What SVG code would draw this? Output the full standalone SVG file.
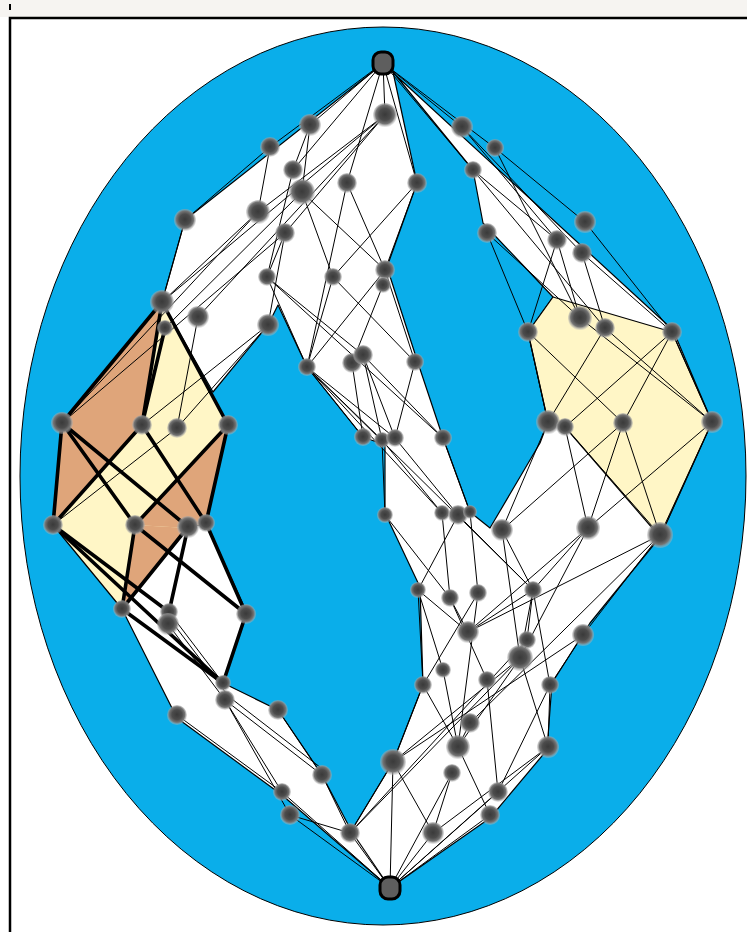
<svg xmlns="http://www.w3.org/2000/svg" width="747" height="932" viewBox="0 0 747 932">
<defs>
<radialGradient id="ng" cx="50%" cy="48%" r="50%">
<stop offset="0" stop-color="#3a3a3a"/>
<stop offset="0.5" stop-color="#4c4c4c"/>
<stop offset="0.78" stop-color="#747474"/>
<stop offset="1" stop-color="#b4b4b4" stop-opacity="0.4"/>
</radialGradient>
<style>
.reg{stroke:#000;stroke-width:1.2;stroke-linejoin:round}
.w{fill:#fff}
.bg{fill:#fff6c6}
.tan{fill:#dfa57a}
.t{stroke:#000;stroke-width:1;fill:none}
.k{stroke:#000;stroke-width:3.6;fill:none;stroke-linecap:round}
.n{fill:url(#ng)}
.end{fill:#5e5e5e;stroke:#000;stroke-width:3}
</style>
</defs>
<rect x="0" y="0" width="747" height="932" fill="#fff"/>
<rect x="0" y="0" width="747" height="17" fill="#f6f4f1"/>
<rect x="9" y="4" width="2" height="6" fill="#000"/>
<path d="M10,932 V18 H747" fill="none" stroke="#000" stroke-width="2.5"/>
<ellipse cx="383" cy="476" rx="363" ry="449" fill="#0aaeea" stroke="#000" stroke-width="1"/>
<g id="regions">
<path class="reg w" fill-rule="evenodd" d="M380,66 L390,70 L673,330 L712,422 L660,537 L590,623 L552,683 L547,750 L490,818 L390,888 L350,833 L393,762 L423,685 L420,587 L385,513 L385,445 L363,437 L307,367 L278,305 L268,325 L213,392 L162,302 L185,220 Z M393,72 L473,170 L483,223 L553,297 L528,332 L548,422 L540,443 L490,528 L470,512 L443,438 L417,360 L387,267 L417,183 Z"/>
<polygon class="reg bg" points="553,297 672,332 712,422 660,537 565,427 548,422 528,332"/>
<polygon class="reg w" points="188,528 206,523 247,613 223,683 278,710 322,775 352,832 390,888 282,795 177,718 122,609"/>
<polygon class="reg bg" points="162,302 228,425 206,523 188,528 122,609 53,525 62,423"/>
<polygon class="tan" points="162,302 62,423 53,525 142,425"/>
<polygon class="tan" points="228,425 206,523 188,528 135,525 170,487"/>
<polygon class="tan" points="135,525 188,528 122,609"/>
</g>
<g id="connectors">
<g class="t">
<line x1="383" y1="63" x2="310" y2="125"/><line x1="383" y1="63" x2="270" y2="147"/><line x1="383" y1="63" x2="385" y2="115"/><line x1="383" y1="63" x2="293" y2="170"/><line x1="383" y1="63" x2="347" y2="183"/><line x1="383" y1="63" x2="417" y2="183"/><line x1="383" y1="63" x2="462" y2="127"/><line x1="383" y1="63" x2="495" y2="148"/><line x1="383" y1="63" x2="473" y2="170"/>
<line x1="310" y1="125" x2="302" y2="192"/><line x1="310" y1="125" x2="293" y2="170"/>
<line x1="270" y1="147" x2="258" y2="212"/><line x1="270" y1="147" x2="185" y2="220"/>
<line x1="385" y1="115" x2="162" y2="302"/><line x1="385" y1="115" x2="198" y2="317"/><line x1="385" y1="115" x2="258" y2="212"/><line x1="385" y1="115" x2="285" y2="233"/>
<line x1="293" y1="170" x2="267" y2="277"/>
<line x1="302" y1="192" x2="333" y2="277"/><line x1="302" y1="192" x2="385" y2="270"/><line x1="302" y1="192" x2="165" y2="328"/>
<line x1="347" y1="183" x2="385" y2="270"/><line x1="347" y1="183" x2="307" y2="367"/>
<line x1="417" y1="183" x2="333" y2="277"/><line x1="417" y1="183" x2="385" y2="270"/>
<line x1="185" y1="220" x2="162" y2="302"/>
<line x1="258" y1="212" x2="162" y2="302"/><line x1="258" y1="212" x2="62" y2="423"/>
<line x1="285" y1="233" x2="268" y2="325"/><line x1="285" y1="233" x2="267" y2="277"/><line x1="285" y1="233" x2="62" y2="423"/>
<line x1="267" y1="277" x2="307" y2="367"/><line x1="267" y1="277" x2="363" y2="355"/><line x1="267" y1="277" x2="443" y2="438"/>
<line x1="333" y1="277" x2="307" y2="367"/><line x1="333" y1="277" x2="415" y2="362"/>
<line x1="385" y1="270" x2="307" y2="367"/><line x1="385" y1="270" x2="415" y2="362"/>
<line x1="383" y1="285" x2="352" y2="363"/>
<line x1="198" y1="317" x2="177" y2="428"/>
<line x1="268" y1="325" x2="142" y2="425"/><line x1="268" y1="325" x2="177" y2="428"/>
<line x1="177" y1="428" x2="53" y2="525"/>
<line x1="307" y1="367" x2="363" y2="437"/><line x1="307" y1="367" x2="382" y2="440"/><line x1="307" y1="367" x2="395" y2="438"/><line x1="307" y1="367" x2="442" y2="513"/><line x1="307" y1="367" x2="533" y2="590"/>
<line x1="352" y1="363" x2="363" y2="437"/>
<line x1="363" y1="355" x2="382" y2="440"/><line x1="363" y1="355" x2="395" y2="438"/><line x1="363" y1="355" x2="443" y2="438"/>
<line x1="415" y1="362" x2="395" y2="438"/>
<line x1="382" y1="440" x2="385" y2="515"/><line x1="382" y1="440" x2="442" y2="513"/>
<line x1="395" y1="438" x2="458" y2="515"/>
<line x1="443" y1="438" x2="470" y2="512"/>
<line x1="385" y1="515" x2="450" y2="598"/>
<line x1="442" y1="513" x2="450" y2="598"/>
<line x1="458" y1="515" x2="418" y2="590"/><line x1="458" y1="515" x2="533" y2="590"/>
<line x1="470" y1="512" x2="478" y2="593"/>
<line x1="418" y1="590" x2="468" y2="632"/><line x1="418" y1="590" x2="443" y2="670"/><line x1="418" y1="590" x2="423" y2="685"/>
<line x1="450" y1="598" x2="487" y2="680"/><line x1="450" y1="598" x2="468" y2="632"/>
<line x1="478" y1="593" x2="423" y2="685"/><line x1="478" y1="593" x2="458" y2="747"/>
<line x1="533" y1="590" x2="468" y2="632"/><line x1="533" y1="590" x2="527" y2="640"/><line x1="533" y1="590" x2="520" y2="658"/><line x1="533" y1="590" x2="550" y2="685"/>
<line x1="502" y1="530" x2="533" y2="590"/><line x1="502" y1="530" x2="520" y2="658"/><line x1="502" y1="530" x2="548" y2="422"/><line x1="502" y1="530" x2="623" y2="423"/>
<line x1="588" y1="528" x2="533" y2="590"/><line x1="588" y1="528" x2="520" y2="658"/><line x1="588" y1="528" x2="468" y2="632"/><line x1="588" y1="528" x2="565" y2="427"/><line x1="588" y1="528" x2="712" y2="422"/>
<line x1="660" y1="535" x2="583" y2="635"/><line x1="660" y1="535" x2="468" y2="632"/><line x1="660" y1="535" x2="470" y2="723"/><line x1="660" y1="535" x2="623" y2="423"/><line x1="660" y1="535" x2="712" y2="422"/><line x1="660" y1="535" x2="565" y2="427"/>
<line x1="583" y1="635" x2="550" y2="685"/><line x1="583" y1="635" x2="393" y2="762"/>
<line x1="520" y1="658" x2="393" y2="762"/><line x1="520" y1="658" x2="548" y2="747"/><line x1="520" y1="658" x2="458" y2="747"/><line x1="520" y1="658" x2="350" y2="833"/>
<line x1="527" y1="640" x2="350" y2="833"/>
<line x1="443" y1="670" x2="458" y2="747"/>
<line x1="423" y1="685" x2="458" y2="747"/><line x1="423" y1="685" x2="393" y2="762"/>
<line x1="487" y1="680" x2="498" y2="792"/>
<line x1="550" y1="685" x2="548" y2="747"/><line x1="550" y1="685" x2="498" y2="792"/>
<line x1="458" y1="747" x2="490" y2="815"/><line x1="458" y1="747" x2="470" y2="723"/>
<line x1="393" y1="762" x2="433" y2="833"/><line x1="393" y1="762" x2="350" y2="833"/><line x1="393" y1="762" x2="390" y2="888"/>
<line x1="548" y1="747" x2="433" y2="833"/><line x1="548" y1="747" x2="390" y2="888"/>
<line x1="452" y1="773" x2="433" y2="833"/><line x1="452" y1="773" x2="390" y2="888"/>
<line x1="498" y1="792" x2="390" y2="888"/><line x1="490" y1="815" x2="390" y2="888"/>
<line x1="350" y1="833" x2="390" y2="888"/><line x1="433" y1="833" x2="390" y2="888"/>
<line x1="322" y1="775" x2="350" y2="833"/><line x1="290" y1="815" x2="350" y2="833"/><line x1="290" y1="815" x2="390" y2="888"/><line x1="282" y1="792" x2="390" y2="888"/>
<line x1="225" y1="700" x2="322" y2="775"/><line x1="225" y1="700" x2="282" y2="792"/><line x1="225" y1="700" x2="290" y2="815"/><line x1="228" y1="696" x2="325" y2="771"/>
<line x1="177" y1="715" x2="282" y2="792"/>
<line x1="168" y1="624" x2="225" y2="700"/><line x1="172" y1="622" x2="229" y2="697"/>
<line x1="169" y1="612" x2="223" y2="683"/>
<line x1="278" y1="710" x2="322" y2="775"/>
<line x1="462" y1="127" x2="557" y2="240"/><line x1="462" y1="127" x2="582" y2="253"/>
<line x1="495" y1="148" x2="585" y2="222"/><line x1="495" y1="148" x2="580" y2="318"/>
<line x1="473" y1="170" x2="557" y2="240"/><line x1="473" y1="170" x2="605" y2="328"/>
<line x1="487" y1="233" x2="580" y2="318"/><line x1="487" y1="233" x2="528" y2="332"/>
<line x1="585" y1="222" x2="672" y2="332"/>
<line x1="557" y1="240" x2="580" y2="318"/><line x1="557" y1="240" x2="528" y2="332"/>
<line x1="582" y1="253" x2="605" y2="328"/><line x1="582" y1="253" x2="672" y2="332"/>
<line x1="528" y1="332" x2="548" y2="422"/><line x1="528" y1="332" x2="623" y2="423"/>
<line x1="580" y1="318" x2="712" y2="422"/>
<line x1="605" y1="328" x2="548" y2="422"/><line x1="605" y1="328" x2="712" y2="422"/>
<line x1="672" y1="332" x2="565" y2="427"/><line x1="672" y1="332" x2="623" y2="423"/><line x1="672" y1="332" x2="712" y2="422"/>
<line x1="623" y1="423" x2="588" y2="528"/>
</g>
<g class="k">
<line x1="162" y1="302" x2="62" y2="423"/><line x1="162" y1="302" x2="142" y2="425"/><line x1="165" y1="328" x2="142" y2="425"/><line x1="162" y1="302" x2="228" y2="425"/>
<line x1="62" y1="423" x2="53" y2="525"/><line x1="62" y1="423" x2="188" y2="527"/><line x1="62" y1="423" x2="135" y2="525"/>
<line x1="142" y1="425" x2="53" y2="525"/><line x1="142" y1="425" x2="206" y2="523"/>
<line x1="228" y1="425" x2="135" y2="525"/><line x1="228" y1="425" x2="206" y2="523"/>
<line x1="53" y1="525" x2="169" y2="612"/><line x1="53" y1="525" x2="223" y2="683"/>
<line x1="135" y1="525" x2="122" y2="609"/><line x1="188" y1="527" x2="122" y2="609"/><line x1="188" y1="527" x2="169" y2="612"/>
<line x1="135" y1="525" x2="246" y2="614"/><line x1="206" y1="523" x2="246" y2="614"/>
<line x1="122" y1="609" x2="223" y2="683"/><line x1="246" y1="614" x2="223" y2="683"/>
</g>
</g>
<g id="nodes">
<g id="nT"><rect class="end" x="373" y="52" width="20" height="22" rx="8"/></g>
<g id="nB"><rect class="end" x="380" y="877" width="20" height="22" rx="8"/></g>
<g id="n1"><circle class="n" cx="310" cy="125" r="11"/></g>
<g id="n2"><circle class="n" cx="270" cy="147" r="10"/></g>
<g id="n3"><circle class="n" cx="385" cy="115" r="12"/></g>
<g id="n4"><circle class="n" cx="293" cy="170" r="10"/></g>
<g id="n5"><circle class="n" cx="302" cy="192" r="13"/></g>
<g id="n6"><circle class="n" cx="347" cy="183" r="10"/></g>
<g id="n7"><circle class="n" cx="417" cy="183" r="10"/></g>
<g id="n8"><circle class="n" cx="185" cy="220" r="11"/></g>
<g id="n9"><circle class="n" cx="258" cy="212" r="12"/></g>
<g id="n10"><circle class="n" cx="285" cy="233" r="10"/></g>
<g id="n11"><circle class="n" cx="267" cy="277" r="9"/></g>
<g id="n12"><circle class="n" cx="333" cy="277" r="9"/></g>
<g id="n13"><circle class="n" cx="385" cy="270" r="10"/></g>
<g id="n14"><circle class="n" cx="383" cy="285" r="8"/></g>
<g id="n15"><circle class="n" cx="162" cy="302" r="12"/></g>
<g id="n16"><circle class="n" cx="198" cy="317" r="11"/></g>
<g id="n17"><circle class="n" cx="165" cy="328" r="8"/></g>
<g id="n18"><circle class="n" cx="268" cy="325" r="11"/></g>
<g id="n19"><circle class="n" cx="307" cy="367" r="9"/></g>
<g id="n20"><circle class="n" cx="352" cy="363" r="10"/></g>
<g id="n21"><circle class="n" cx="363" cy="355" r="10"/></g>
<g id="n22"><circle class="n" cx="415" cy="362" r="9"/></g>
<g id="n23"><circle class="n" cx="363" cy="437" r="9"/></g>
<g id="n24"><circle class="n" cx="382" cy="440" r="8"/></g>
<g id="n25"><circle class="n" cx="395" cy="438" r="9"/></g>
<g id="n26"><circle class="n" cx="443" cy="438" r="9"/></g>
<g id="n27"><circle class="n" cx="385" cy="515" r="8"/></g>
<g id="n28"><circle class="n" cx="442" cy="513" r="8"/></g>
<g id="n29"><circle class="n" cx="458" cy="515" r="10"/></g>
<g id="n30"><circle class="n" cx="470" cy="512" r="7"/></g>
<g id="n31"><circle class="n" cx="418" cy="590" r="8"/></g>
<g id="n32"><circle class="n" cx="450" cy="598" r="9"/></g>
<g id="n33"><circle class="n" cx="478" cy="593" r="9"/></g>
<g id="n34"><circle class="n" cx="533" cy="590" r="9"/></g>
<g id="n35"><circle class="n" cx="468" cy="632" r="11"/></g>
<g id="n36"><circle class="n" cx="527" cy="640" r="9"/></g>
<g id="n37"><circle class="n" cx="583" cy="635" r="11"/></g>
<g id="n38"><circle class="n" cx="520" cy="658" r="13"/></g>
<g id="n39"><circle class="n" cx="443" cy="670" r="8"/></g>
<g id="n40"><circle class="n" cx="423" cy="685" r="9"/></g>
<g id="n41"><circle class="n" cx="487" cy="680" r="9"/></g>
<g id="n42"><circle class="n" cx="550" cy="685" r="9"/></g>
<g id="n43"><circle class="n" cx="470" cy="723" r="10"/></g>
<g id="n44"><circle class="n" cx="458" cy="747" r="12"/></g>
<g id="n45"><circle class="n" cx="393" cy="762" r="13"/></g>
<g id="n46"><circle class="n" cx="548" cy="747" r="11"/></g>
<g id="n47"><circle class="n" cx="452" cy="773" r="9"/></g>
<g id="n48"><circle class="n" cx="498" cy="792" r="10"/></g>
<g id="n49"><circle class="n" cx="490" cy="815" r="10"/></g>
<g id="n50"><circle class="n" cx="350" cy="833" r="10"/></g>
<g id="n51"><circle class="n" cx="433" cy="833" r="11"/></g>
<g id="r1"><circle class="n" cx="462" cy="127" r="11"/></g>
<g id="r2"><circle class="n" cx="495" cy="148" r="9"/></g>
<g id="r3"><circle class="n" cx="473" cy="170" r="9"/></g>
<g id="r4"><circle class="n" cx="487" cy="233" r="10"/></g>
<g id="r5"><circle class="n" cx="585" cy="222" r="11"/></g>
<g id="r6"><circle class="n" cx="557" cy="240" r="10"/></g>
<g id="r7"><circle class="n" cx="582" cy="253" r="10"/></g>
<g id="r8"><circle class="n" cx="528" cy="332" r="10"/></g>
<g id="r9"><circle class="n" cx="580" cy="318" r="12"/></g>
<g id="r10"><circle class="n" cx="605" cy="328" r="10"/></g>
<g id="r11"><circle class="n" cx="672" cy="332" r="10"/></g>
<g id="r12"><circle class="n" cx="548" cy="422" r="12"/></g>
<g id="r13"><circle class="n" cx="565" cy="427" r="9"/></g>
<g id="r14"><circle class="n" cx="623" cy="423" r="10"/></g>
<g id="r15"><circle class="n" cx="712" cy="422" r="11"/></g>
<g id="r16"><circle class="n" cx="502" cy="530" r="11"/></g>
<g id="r17"><circle class="n" cx="588" cy="528" r="12"/></g>
<g id="r18"><circle class="n" cx="660" cy="535" r="13"/></g>
<g id="l1"><circle class="n" cx="62" cy="423" r="11"/></g>
<g id="l2"><circle class="n" cx="142" cy="425" r="10"/></g>
<g id="l3"><circle class="n" cx="177" cy="428" r="10"/></g>
<g id="l4"><circle class="n" cx="228" cy="425" r="10"/></g>
<g id="l5"><circle class="n" cx="53" cy="525" r="10"/></g>
<g id="l6"><circle class="n" cx="135" cy="525" r="10"/></g>
<g id="l7"><circle class="n" cx="188" cy="527" r="11"/></g>
<g id="l8"><circle class="n" cx="206" cy="523" r="9"/></g>
<g id="l9"><circle class="n" cx="122" cy="609" r="9"/></g>
<g id="l10"><circle class="n" cx="169" cy="612" r="9"/></g>
<g id="l11"><circle class="n" cx="168" cy="624" r="11"/></g>
<g id="l12"><circle class="n" cx="246" cy="614" r="10"/></g>
<g id="l13"><circle class="n" cx="223" cy="683" r="8"/></g>
<g id="l14"><circle class="n" cx="225" cy="700" r="10"/></g>
<g id="l15"><circle class="n" cx="177" cy="715" r="10"/></g>
<g id="l16"><circle class="n" cx="278" cy="710" r="10"/></g>
<g id="l17"><circle class="n" cx="322" cy="775" r="10"/></g>
<g id="l18"><circle class="n" cx="282" cy="792" r="9"/></g>
<g id="l19"><circle class="n" cx="290" cy="815" r="10"/></g>
</g>
</svg>
